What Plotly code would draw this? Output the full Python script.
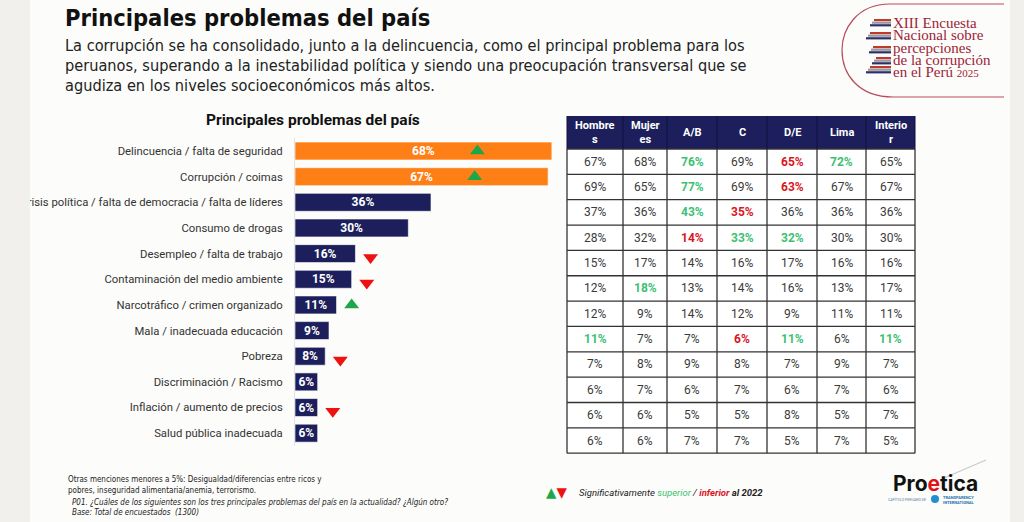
import plotly.graph_objects as go

W, H = 1024, 522

# bar chart data
problemas = [
    "Delincuencia / falta de seguridad",
    "Corrupción / coimas",
    "Crisis política / falta de democracia / falta de líderes",
    "Consumo de drogas",
    "Desempleo / falta de trabajo",
    "Contaminación del medio ambiente",
    "Narcotráfico / crimen organizado",
    "Mala / inadecuada educación",
    "Pobreza",
    "Discriminación / Racismo",
    "Inflación / aumento de precios",
    "Salud pública inadecuada",
]
total = [68, 67, 36, 30, 16, 15, 11, 9, 8, 6, 6, 6]
# cambio significativo vs 2022: +1 superior, -1 inferior, 0 sin cambio
cambio_2022 = [1, 1, 0, 0, -1, -1, 1, 0, -1, 0, -1, 0]

# table data
columnas = ["Hombre<br>s", "Mujer<br>es", "A/B", "C", "D/E", "Lima", "Interio<br>r"]
tabla = [
    [67, 68, 76, 69, 65, 72, 65],
    [69, 65, 77, 69, 63, 67, 67],
    [37, 36, 43, 35, 36, 36, 36],
    [28, 32, 14, 33, 32, 30, 30],
    [15, 17, 14, 16, 17, 16, 16],
    [12, 18, 13, 14, 16, 13, 17],
    [12, 9, 14, 12, 9, 11, 11],
    [11, 7, 7, 6, 11, 6, 11],
    [7, 8, 9, 8, 7, 9, 7],
    [6, 7, 6, 7, 6, 7, 6],
    [6, 6, 5, 5, 8, 5, 7],
    [6, 6, 7, 7, 5, 7, 5],
]
# significancia por celda: + superior, - inferior, . nada
signif = [
    "..+.-+.",
    "..+.-..",
    "..+-...",
    "..-++..",
    ".......",
    ".+.....",
    ".......",
    "+..-+.+",
    ".......",
    ".......",
    ".......",
    ".......",
]

NAVY = "#1c1f5b"
ORANGE = "#ff7f17"
GREEN_TRI = "#1ea64a"
RED_TRI = "#ee1111"
GREEN_TXT = "#3cbf73"
RED_TXT = "#d9151e"
NARROW = "Liberation Sans Narrow, DejaVu Sans Condensed, Roboto, sans-serif"


def px(x):
    return x / W


def py(y):
    return 1 - y / H


fig = go.Figure()

idx = list(range(len(problemas)))
fig.add_trace(
    go.Bar(
        x=total,
        y=idx,
        orientation="h",
        width=0.7,
        marker=dict(
            color=[ORANGE if v > 50 else NAVY for v in total],
            line=dict(color="rgba(255,255,255,0.6)", width=1),
        ),
        text=[f"<b>{v}%</b>" for v in total],
        textposition="inside",
        insidetextanchor="middle",
        constraintext="none",
        textfont=dict(family="Roboto", size=12, color="white"),
        hoverinfo="skip",
        showlegend=False,
    )
)

# triangles for significant change
for sign, sym, col, dy in [(1, "triangle-up", GREEN_TRI, 0.0), (-1, "triangle-down", RED_TRI, 0.15)]:
    xs, ys = [], []
    for i, (v, c) in enumerate(zip(total, cambio_2022)):
        if c == sign:
            xs.append(v * 0.71 if v > 50 else v + 4)
            ys.append(i + dy)
    fig.add_trace(
        go.Scatter(
            x=xs,
            y=ys,
            mode="markers",
            marker=dict(symbol=sym, size=13, color=col, line=dict(width=0)),
            hoverinfo="skip",
            showlegend=False,
        )
    )

shapes = []
ann = []


def add_text(x, y, text, size, color="#222", family="Roboto", xanchor="left"):
    ann.append(dict(x=px(x), y=py(y), xref="paper", yref="paper", text=text,
                    showarrow=False, xanchor=xanchor, yanchor="middle",
                    font=dict(family=family, size=size, color=color)))


# table drawn by hand (go.Table pads rows too much)
col_w = [56, 44, 50, 50, 50, 49, 49]
tx0, ty0 = 567, 116
head_h, row_h = 33, 25.35
col_x = [tx0]
for w in col_w:
    col_x.append(col_x[-1] + w)
ty1 = ty0 + head_h + row_h * len(tabla)

shapes.append(dict(type="rect", xref="paper", yref="paper",
                   x0=px(tx0), x1=px(col_x[-1]), y0=py(ty0 + head_h), y1=py(ty0),
                   fillcolor=NAVY, line=dict(width=0)))
shapes.append(dict(type="rect", xref="paper", yref="paper",
                   x0=px(tx0), x1=px(col_x[-1]), y0=py(ty1), y1=py(ty0 + head_h),
                   fillcolor="white", line=dict(width=0)))
for k in range(len(tabla) + 1):
    yy = ty0 + head_h + k * row_h
    shapes.append(dict(type="line", xref="paper", yref="paper",
                       x0=px(tx0), x1=px(col_x[-1]), y0=py(yy), y1=py(yy),
                       line=dict(color="#333", width=1.3)))
for xx in col_x:
    shapes.append(dict(type="line", xref="paper", yref="paper",
                       x0=px(xx), x1=px(xx), y0=py(ty1), y1=py(ty0 + head_h),
                       line=dict(color="#333", width=1.3)))
    shapes.append(dict(type="line", xref="paper", yref="paper",
                       x0=px(xx), x1=px(xx), y0=py(ty0 + head_h), y1=py(ty0),
                       line=dict(color="#0f1140", width=1)))

for j, c in enumerate(columnas):
    cx = (col_x[j] + col_x[j + 1]) / 2
    add_text(cx, ty0 + head_h / 2, f"<b>{c}</b>", 11, "white", "Roboto", "center")
    for i, row in enumerate(tabla):
        cy = ty0 + head_h + (i + 0.5) * row_h
        s = signif[i][j]
        if s == "+":
            t, colr = f"<b>{row[j]}%</b>", GREEN_TXT
        elif s == "-":
            t, colr = f"<b>{row[j]}%</b>", RED_TXT
        else:
            t, colr = f"{row[j]}%", "#3a3a3a"
        add_text(cx, cy, t, 12, colr, "Roboto", "center")

shapes += [
    # grey side bands outside the slide
    dict(type="rect", xref="paper", yref="paper", x0=0, x1=px(30), y0=0, y1=1,
         fillcolor="#f1f0ec", line=dict(width=0), layer="above"),
    dict(type="rect", xref="paper", yref="paper", x0=px(1010), x1=1, y0=0, y1=1,
         fillcolor="#f1f0ec", line=dict(width=0), layer="above"),
    # survey logo frame
    dict(type="path", xref="paper", yref="paper",
         path=(f"M {px(1004)},{py(4)} L {px(890)},{py(4)} "
               f"C {px(856)},{py(4)} {px(842)},{py(30)} {px(842)},{py(50)} "
               f"C {px(842)},{py(74)} {px(858)},{py(97)} {px(893)},{py(97)} "
               f"L {px(1004)},{py(97)}"),
         line=dict(color="#b94a5a", width=1.2), layer="above"),
]

# little striped stacks of the survey logo
for k, (y0, off) in enumerate([(19, 4), (32, 0), (46, 3), (57, 6), (66, 0)]):
    for s, c in enumerate(["#c0392b", "#9a9aa0", "#2b2f6b"]):
        yy = y0 + s * 2.6
        shapes.append(dict(type="rect", xref="paper", yref="paper",
                           x0=px(870 + off - s * 2), x1=px(891), y0=py(yy + 2.2), y1=py(yy),
                           fillcolor=c, line=dict(width=0), layer="above"))

# proetica check mark and TI dot
shapes.append(dict(type="line", xref="paper", yref="paper",
                   x0=px(944), y0=py(478), x1=px(986), y1=py(460),
                   line=dict(color="#c9c9c9", width=1.2)))
shapes.append(dict(type="circle", xref="paper", yref="paper",
                   x0=px(931), x1=px(939), y0=py(503), y1=py(495),
                   fillcolor="#1f8fd0", line=dict(width=0)))

add_text(63, 18, "<b>Principales problemas del país</b>", 23.5, "#111", NARROW)
add_text(63, 46, "La corrupción se ha consolidado, junto a la delincuencia, como el principal problema para los", 16.2, "#222", NARROW)
add_text(63, 66, "peruanos, superando a la inestabilidad política y siendo una preocupación transversal que se", 16.2, "#222", NARROW)
add_text(63, 85, "agudiza en los niveles socioeconómicos más altos.", 16.2, "#222", NARROW)

add_text(313, 120, "<b>Principales problemas del país</b>", 15.5, "#111", "Roboto", "center")

serif = "Liberation Serif, DejaVu Serif, serif"
for yy, t in [(23, "XIII Encuesta"), (35.3, "Nacional sobre"), (47.6, "percepciones"),
              (59.9, "de la corrupción"), (72.2, "en el Perú <span style='font-size:11px'>2025</span>")]:
    add_text(891, yy, t, 15, "#9c2436", serif)

add_text(66, 479, "Otras menciones menores a 5%: Desigualdad/diferencias entre ricos y", 8, "#222", NARROW)
add_text(66, 490, "pobres, inseguridad alimentaria/anemia, terrorismo.", 8, "#222", NARROW)
add_text(70, 502, "<i>P01. ¿Cuáles de los siguientes son los tres principales problemas del país en la actualidad? ¿Algún otro?</i>", 8, "#222", NARROW)
add_text(70, 512, "<i>Base: Total de encuestados  (1300)</i>", 8, "#222", NARROW)

add_text(544, 492, f"<span style='color:{GREEN_TRI}'>▲</span><span style='color:{RED_TRI}'>▼</span>", 13.5, "#222", "DejaVu Sans")
add_text(577, 492, f"<i>Significativamente <span style='color:{GREEN_TXT}'>superior</span> / "
                   f"<b><span style='color:{RED_TXT}'>inferior</span> al 2022</b></i>", 9.5, "#222", "Roboto")

add_text(935, 483, "<b>Pro<span style='color:#e3101a'>e</span>tica</b>", 21, "#111", "Inter", "center")
add_text(928, 499, "CAPÍTULO PERUANO DE", 3.5, "#5a7fa8", "Roboto", "right")
add_text(941, 497, "<b>TRANSPARENCY</b>", 4, "#1f6fb0", "Roboto")
add_text(941, 502, "<b>INTERNATIONAL</b>", 4, "#1f6fb0", "Roboto")

fig.update_layout(
    width=W,
    height=H,
    margin=dict(l=0, r=0, t=0, b=0),
    paper_bgcolor="#fcfcfa",
    plot_bgcolor="rgba(0,0,0,0)",
    bargap=0.3,
    shapes=shapes,
    annotations=ann,
    xaxis=dict(domain=[px(295), px(567)], range=[0, 72], visible=False, fixedrange=True),
    yaxis=dict(
        domain=[py(446), py(138.2)],
        range=[11.5, -0.5],
        tickvals=idx,
        ticktext=problemas,
        ticks="outside",
        ticklen=9,
        tickcolor="rgba(0,0,0,0)",
        showgrid=False,
        zeroline=False,
        showline=True,
        linecolor="#e2e2e2",
        linewidth=1,
        tickfont=dict(family="Roboto", size=11.3, color="#333"),
        fixedrange=True,
    ),
)

fig.write_html(
    "out.html",
    config={"displayModeBar": False},
    post_script="document.body.style.margin='0';",
)
